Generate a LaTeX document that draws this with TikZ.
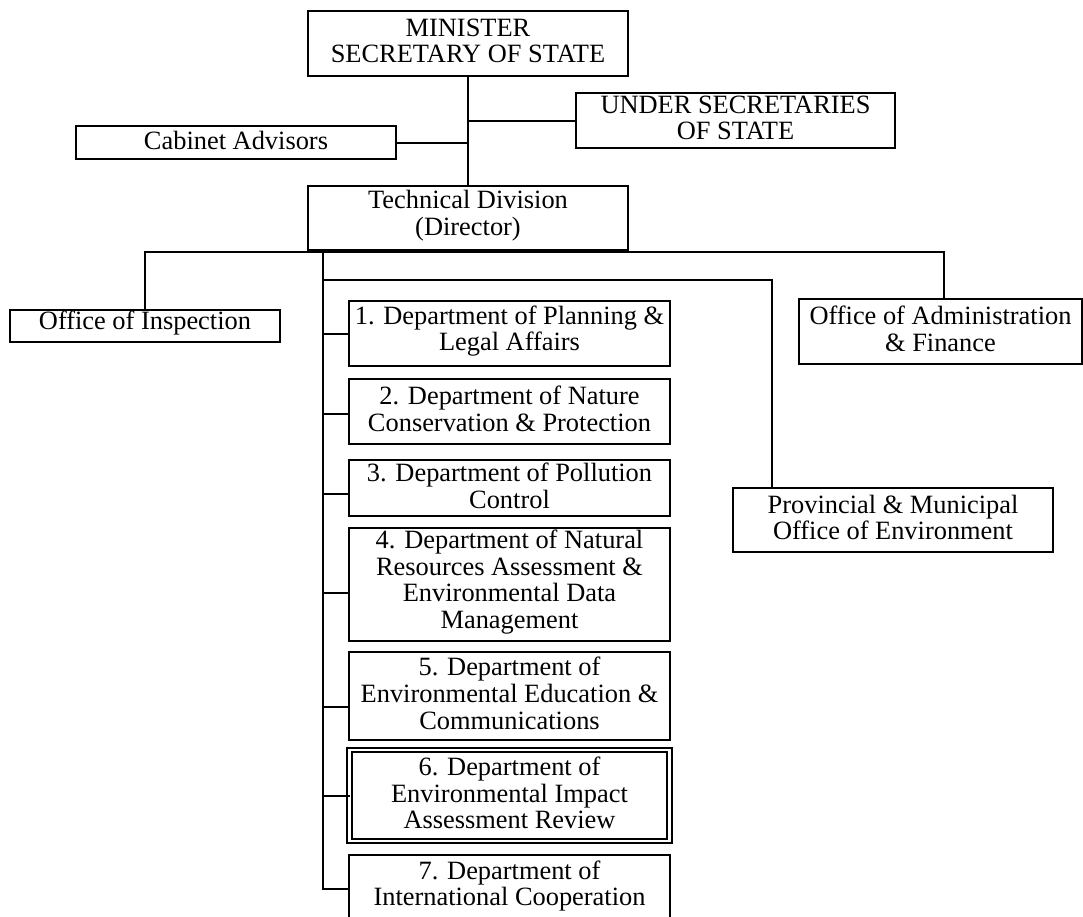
\documentclass[tikz,border=0pt]{standalone}
\usepackage{fontspec}
\setmainfont{Liberation Serif}
\newcommand\orgfont{\fontsize{26.4}{26.7}\selectfont}

% A box drawn from its corners, with its text centred inside it.
% #1 extra style, #2 name, #3 x1, #4 y1, #5 x2, #6 y2, #7 text
\newcommand\unitbox[7][]{%
  \pgfmathsetmacro\ubw{#5-#3}%
  \pgfmathsetmacro\ubh{#6-#4}%
  \node[orgbox,#1,minimum width=\ubw pt,minimum height=\ubh pt]
    (#2) at ({(#3+#5)/2},{(#4+#6)/2}) {};
  \node[orgtext] (#2-t) at ([yshift=2.5pt]#2.center) {#7};
}

\tikzset{
  orgbox/.style={draw, line width=2.2pt, inner sep=0pt, outer sep=0pt},
  twinbox/.style={double, double distance=2.6pt, line width=2pt},
  orgtext/.style={align=center, font=\orgfont, inner sep=0pt},
  link/.style={line width=2pt}
}

\begin{document}
\begin{tikzpicture}[x=1pt, y=-1pt]
\clip (0,0) rectangle (1083,916);
\fill[white] (0,0) rectangle (1083,916);

% top of the hierarchy
\unitbox{min}{308}{11}{628}{76}{MINISTER\\SECRETARY OF STATE}
\unitbox{under}{576}{93}{895}{148}{UNDER SECRETARIES\\OF STATE}
\unitbox{cab}{76}{126}{396}{159}{Cabinet Advisors}
\unitbox{tech}{308}{186}{628}{250}{Technical Division\\(Director)}

% offices
\unitbox{insp}{10}{310}{280}{342}{Office of Inspection}
\unitbox{adm}{799}{299}{1082}{364}{Office of Administration\\\& Finance}
\unitbox{prov}{733}{488}{1053}{552}{Provincial \& Municipal\\Office of Environment}

% departments
\unitbox{d1}{349}{301}{670}{366}{1. Department of Planning \&\\Legal Affairs}
\unitbox{d2}{349}{379}{670}{444}{2. Department of Nature\\Conservation \& Protection}
\unitbox{d3}{349}{460}{670}{516}{3. Department of Pollution\\Control}
\unitbox{d4}{349}{528}{670}{641}{4. Department of Natural\\Resources Assessment \&\\Environmental Data\\Management}
\unitbox{d5}{349}{652}{670}{740}{5. Department of\\Environmental Education \&\\Communications}
\unitbox[twinbox]{d6}{349.5}{750}{669.5}{841}{6. Department of\\Environmental Impact\\Assessment Review}
\unitbox{d7}{349}{855}{670}{922}{7. Department of\\International Cooperation}

% connectors
\coordinate (bus) at (468,252);
\coordinate (spine) at (323,252);
\coordinate (provbus) at (323,280);
\coordinate (provknee) at (772,280);
\coordinate (admknee) at (944,252);

\draw[link] (min) -- (tech);
\draw[link] (under.west) -- (under.west -| min.south);
\draw[link] (cab.east) -- (cab.east -| min.south);
\draw[link] (insp.north) |- (bus) -- (admknee) -- (admknee |- adm.north);
\draw[link] (spine) |- (d7.west);
\draw[link] (provbus) -- (provknee) -- (provknee |- prov.north);
\draw[link] (d1.west) -- (d1.west -| spine);
\draw[link] ([yshift=-2.5pt]d2.west) -- ([yshift=-2.5pt]d2.west -| spine);
\draw[link] ([yshift=-6pt]d3.west) -- ([yshift=-6pt]d3.west -| spine);
\draw[link] ([yshift=-8.5pt]d4.west) -- ([yshift=-8.5pt]d4.west -| spine);
\draw[link] ([yshift=-11pt]d5.west) -- ([yshift=-11pt]d5.west -| spine);
\draw[link] (d6.west) -- (d6.west -| spine);
\end{tikzpicture}
\end{document}
